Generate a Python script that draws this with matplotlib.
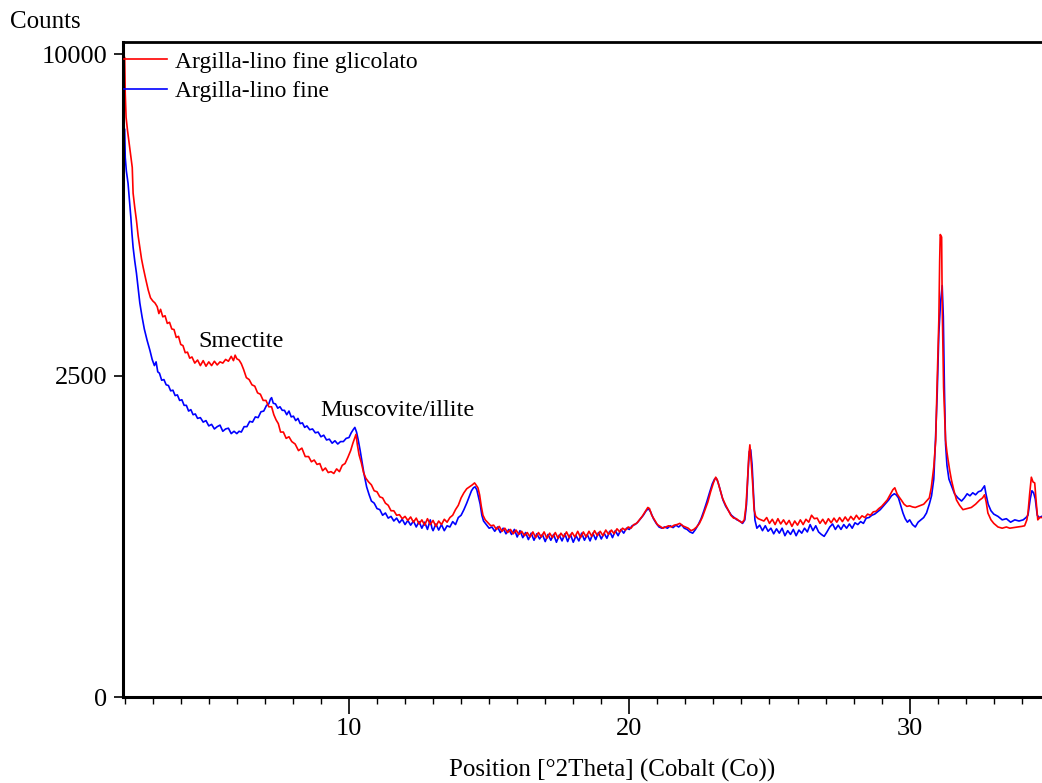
import numpy as np
import matplotlib
matplotlib.use("Agg")
import matplotlib.pyplot as plt

plt.rcParams['font.family'] = ['Liberation Serif', 'DejaVu Serif']

# ---- data: 2-theta (deg) and counts ----
red_label = "Argilla-lino fine glicolato"
blue_label = "Argilla-lino fine"

red_2theta = [
    2.00, 2.02, 2.05, 2.10, 2.16, 2.22, 2.27, 2.30, 2.36, 2.42, 2.48, 2.54, 2.60, 2.66, 2.75, 2.84, 2.92,
    3.00, 3.08, 3.16, 3.22, 3.28, 3.36, 3.44, 3.52, 3.60, 3.68, 3.76, 3.84, 3.92, 4.00, 4.08, 4.16, 4.24,
    4.32, 4.40, 4.50, 4.60, 4.70, 4.80, 4.90, 5.00, 5.10, 5.20, 5.30, 5.40, 5.50, 5.60, 5.70, 5.80, 5.88,
    5.94, 6.00, 6.08, 6.16, 6.24, 6.34, 6.44, 6.54, 6.64, 6.74, 6.84, 6.94, 7.04, 7.14, 7.24, 7.32, 7.40,
    7.48, 7.56, 7.66, 7.76, 7.86, 7.96, 8.08, 8.20, 8.32, 8.44, 8.56, 8.66, 8.76, 8.86, 8.96, 9.06, 9.16,
    9.26, 9.36, 9.46, 9.56, 9.66, 9.76, 9.86, 9.96, 10.06, 10.14, 10.20, 10.25, 10.30, 10.36, 10.44, 10.52,
    10.60, 10.70, 10.80, 10.90, 11.00, 11.10, 11.20, 11.30, 11.40, 11.50, 11.60, 11.70, 11.80, 11.90, 12.00,
    12.10, 12.20, 12.30, 12.40, 12.50, 12.60, 12.70, 12.80, 12.90, 13.00, 13.10, 13.20, 13.30, 13.40, 13.50,
    13.60, 13.70, 13.80, 13.90, 14.00, 14.10, 14.20, 14.30, 14.40, 14.48, 14.53, 14.60, 14.66, 14.72, 14.78,
    14.86, 14.96, 15.06, 15.16, 15.26, 15.36, 15.46, 15.56, 15.66, 15.76, 15.86, 15.96, 16.06, 16.16, 16.26,
    16.36, 16.46, 16.56, 16.66, 16.76, 16.86, 16.96, 17.06, 17.16, 17.26, 17.36, 17.46, 17.56, 17.66, 17.76,
    17.86, 17.96, 18.06, 18.16, 18.26, 18.36, 18.46, 18.56, 18.66, 18.76, 18.86, 18.96, 19.06, 19.16, 19.26,
    19.36, 19.46, 19.56, 19.66, 19.76, 19.86, 19.96, 20.06, 20.16, 20.26, 20.36, 20.46, 20.56, 20.66, 20.72,
    20.80, 20.90, 21.00, 21.10, 21.20, 21.30, 21.40, 21.50, 21.60, 21.70, 21.80, 21.90, 22.00, 22.10, 22.20,
    22.30, 22.40, 22.50, 22.60, 22.70, 22.80, 22.90, 23.00, 23.08, 23.14, 23.22, 23.32, 23.42, 23.52, 23.62,
    23.72, 23.82, 23.92, 24.02, 24.10, 24.16, 24.21, 24.26, 24.30, 24.35, 24.40, 24.45, 24.51, 24.60, 24.70,
    24.80, 24.90, 25.00, 25.10, 25.20, 25.30, 25.40, 25.50, 25.60, 25.70, 25.80, 25.90, 26.00, 26.10, 26.20,
    26.30, 26.40, 26.50, 26.60, 26.70, 26.80, 26.90, 27.00, 27.10, 27.20, 27.30, 27.40, 27.50, 27.60, 27.70,
    27.80, 27.90, 28.00, 28.10, 28.20, 28.30, 28.40, 28.50, 28.60, 28.70, 28.80, 28.90, 29.00, 29.10, 29.20,
    29.30, 29.40, 29.47, 29.55, 29.62, 29.70, 29.80, 29.90, 30.00, 30.10, 30.20, 30.30, 30.40, 30.50, 30.60,
    30.70, 30.77, 30.86, 30.93, 30.97, 31.01, 31.04, 31.07, 31.09, 31.12, 31.14, 31.16, 31.19, 31.21, 31.25,
    31.28, 31.33, 31.37, 31.43, 31.49, 31.58, 31.67, 31.78, 31.90, 32.05, 32.20, 32.35, 32.50, 32.60, 32.67,
    32.73, 32.79, 32.90, 33.00, 33.15, 33.30, 33.45, 33.57, 33.70, 33.85, 34.00, 34.10, 34.18, 34.22, 34.28,
    34.34, 34.40, 34.46, 34.52, 34.57, 34.64, 34.71,
]
red_counts = [
    9900, 8820, 8140, 7780, 7420, 7050, 6790, 6150, 5800, 5500, 5150, 4900, 4650, 4470, 4230, 4010, 3860,
    3800, 3760, 3690, 3560, 3640, 3500, 3520, 3380, 3400, 3280, 3270, 3130, 3150, 3010, 2990, 2870, 2880,
    2780, 2800, 2700, 2750, 2660, 2740, 2650, 2720, 2660, 2730, 2670, 2720, 2700, 2760, 2730, 2810, 2740,
    2830, 2770, 2750, 2690, 2600, 2470, 2440, 2360, 2340, 2240, 2220, 2130, 2130, 2040, 2040, 1930, 1860,
    1810, 1700, 1700, 1620, 1640, 1580, 1550, 1470, 1500, 1400, 1400, 1340, 1360, 1310, 1320, 1240, 1270,
    1220, 1230, 1210, 1260, 1230, 1300, 1320, 1390, 1470, 1560, 1620, 1670, 1540, 1420, 1330, 1220,
    1160, 1120, 1090, 1030, 1020, 970, 960, 910, 890, 840, 840, 800, 805, 770, 790,
    755, 785, 740, 775, 725, 760, 715, 770, 720, 755, 705, 750, 720, 765, 740,
    780, 800, 850, 890, 960, 1010, 1050, 1070, 1090, 1110, 1090, 1060, 990, 880, 800,
    760, 735, 710, 715, 680, 705, 665, 690, 655, 680, 645, 675, 640, 665, 630,
    655, 620, 660, 615, 655, 620, 660, 610, 650, 615, 655, 610, 650, 620, 660,
    615, 655, 620, 665, 615, 660, 620, 665, 625, 670, 630, 665, 630, 675, 640,
    675, 645, 685, 660, 690, 675, 700, 690, 720, 730, 760, 790, 830, 870, 860,
    800, 760, 720, 705, 690, 700, 710, 700, 715, 720, 730, 710, 700, 690, 670,
    680, 700, 730, 780, 850, 920, 1020, 1110, 1170, 1140, 1060, 960, 900, 850, 800,
    775, 770, 750, 735, 760, 880, 1100, 1400, 1540, 1330, 1100, 850, 790, 770, 760,
    750, 780, 730, 765, 720, 770, 725, 760, 720, 755, 705, 750, 715, 760, 720,
    765, 740, 800, 770, 775, 730, 765, 725, 770, 735, 775, 740, 780, 745, 785,
    750, 790, 760, 800, 765, 795, 780, 810, 800, 830, 835, 860, 880, 910, 940,
    990, 1040, 1060, 1000, 970, 940, 900, 880, 885, 875, 870, 880, 890, 900, 930,
    960, 1060, 1280, 1600, 2240, 2900, 3440, 4600, 5180, 5150, 5120, 3760, 2900, 2320, 1900,
    1600, 1450, 1360, 1240, 1140, 1030, 940, 890, 850, 860, 870, 900, 940, 960, 990,
    920, 820, 760, 730, 700, 690, 700, 690, 695, 700, 705, 710, 760, 820, 1000,
    1170, 1120, 1110, 900, 760, 780, 780,
]

blue_2theta = [
    2.00, 2.02, 2.06, 2.12, 2.18, 2.22, 2.26, 2.30, 2.36, 2.42, 2.48, 2.54, 2.62, 2.70, 2.80, 2.90, 2.98,
    3.06, 3.12, 3.18, 3.24, 3.32, 3.40, 3.48, 3.56, 3.64, 3.72, 3.80, 3.88, 3.96, 4.04, 4.12, 4.20, 4.28,
    4.36, 4.44, 4.52, 4.60, 4.70, 4.80, 4.90, 5.00, 5.10, 5.20, 5.30, 5.40, 5.50, 5.60, 5.70, 5.80, 5.90,
    6.00, 6.08, 6.16, 6.26, 6.36, 6.46, 6.56, 6.66, 6.76, 6.86, 6.96, 7.06, 7.14, 7.20, 7.24, 7.30, 7.38,
    7.46, 7.54, 7.62, 7.70, 7.78, 7.86, 7.94, 8.02, 8.10, 8.18, 8.26, 8.34, 8.42, 8.50, 8.60, 8.70, 8.80,
    8.90, 9.00, 9.10, 9.20, 9.30, 9.40, 9.50, 9.60, 9.70, 9.80, 9.90, 10.00, 10.08, 10.15, 10.21, 10.27,
    10.33, 10.40, 10.46, 10.54, 10.63, 10.72, 10.80, 10.90, 11.00, 11.10, 11.20, 11.30, 11.40, 11.50, 11.60,
    11.70, 11.80, 11.90, 12.00, 12.10, 12.20, 12.30, 12.40, 12.50, 12.60, 12.70, 12.80, 12.90, 12.96, 13.00,
    13.10, 13.20, 13.30, 13.40, 13.50, 13.60, 13.70, 13.80, 13.90, 14.00, 14.10, 14.20, 14.30, 14.37, 14.44,
    14.50, 14.56, 14.62, 14.68, 14.74, 14.80, 14.90, 15.00, 15.10, 15.20, 15.30, 15.40, 15.50, 15.60, 15.70,
    15.80, 15.90, 16.00, 16.10, 16.20, 16.30, 16.40, 16.50, 16.60, 16.70, 16.80, 16.90, 17.00, 17.10, 17.20,
    17.30, 17.40, 17.50, 17.60, 17.70, 17.80, 17.90, 18.00, 18.10, 18.20, 18.30, 18.40, 18.50, 18.60, 18.70,
    18.80, 18.90, 19.00, 19.10, 19.20, 19.30, 19.40, 19.50, 19.60, 19.70, 19.80, 19.90, 20.00, 20.10, 20.20,
    20.30, 20.40, 20.50, 20.60, 20.68, 20.76, 20.86, 20.96, 21.06, 21.16, 21.26, 21.36, 21.46, 21.56, 21.66,
    21.76, 21.86, 21.96, 22.06, 22.16, 22.26, 22.36, 22.46, 22.56, 22.66, 22.76, 22.86, 22.96, 23.04, 23.10,
    23.16, 23.24, 23.34, 23.44, 23.54, 23.64, 23.74, 23.84, 23.94, 24.04, 24.12, 24.18, 24.23, 24.28, 24.33,
    24.38, 24.43, 24.48, 24.55, 24.65, 24.75, 24.85, 24.95, 25.05, 25.15, 25.25, 25.35, 25.45, 25.55, 25.65,
    25.75, 25.85, 25.95, 26.05, 26.15, 26.25, 26.35, 26.45, 26.55, 26.65, 26.75, 26.85, 26.95, 27.05, 27.15,
    27.25, 27.35, 27.45, 27.55, 27.65, 27.75, 27.85, 27.95, 28.05, 28.15, 28.25, 28.35, 28.45, 28.55, 28.65,
    28.75, 28.85, 28.95, 29.05, 29.15, 29.25, 29.35, 29.45, 29.52, 29.60, 29.68, 29.76, 29.84, 29.92, 30.00,
    30.10, 30.20, 30.30, 30.40, 30.50, 30.60, 30.70, 30.78, 30.86, 30.92, 30.98, 31.04, 31.10, 31.16, 31.20,
    31.24, 31.28, 31.33, 31.40, 31.49, 31.60, 31.72, 31.85, 31.95, 32.05, 32.15, 32.25, 32.35, 32.45, 32.55,
    32.62, 32.67, 32.72, 32.80, 32.90, 33.00, 33.15, 33.30, 33.45, 33.60, 33.75, 33.90, 34.05, 34.15, 34.22,
    34.30, 34.36, 34.42, 34.48, 34.55, 34.62, 34.71,
]
blue_counts = [
    7800, 7050, 6700, 6390, 5900, 5570, 5200, 4900, 4600, 4350, 4050, 3760, 3500, 3280, 3080, 2910, 2760,
    2660, 2720, 2560, 2540, 2430, 2440, 2360, 2350, 2270, 2280, 2200, 2210, 2130, 2140, 2060, 2060, 1980,
    2000, 1930, 1940, 1880, 1890, 1830, 1850, 1780, 1800, 1740, 1770, 1790, 1710, 1740, 1750, 1680, 1710,
    1680, 1710, 1700, 1770, 1770, 1840, 1830, 1900, 1890, 1970, 1980, 2060, 2080, 2150, 2170, 2090, 2080,
    2020, 2040, 1990, 1990, 1930, 1980, 1900, 1910, 1850, 1880, 1810, 1820, 1760, 1780, 1730, 1740, 1690,
    1700, 1640, 1660, 1600, 1610, 1560, 1590, 1550, 1580, 1580, 1620, 1630, 1690, 1730, 1760, 1700,
    1600, 1470, 1350, 1200, 1070, 990, 930, 910, 860, 850, 800, 820, 775, 790, 750,
    775, 735, 765, 720, 755, 715, 750, 700, 745, 690, 740, 680, 760, 690, 670,
    725, 675, 720, 670, 710, 700, 745, 720, 780, 800, 850, 910, 980, 1030, 1060,
    1070, 1040, 970, 900, 800, 750, 720, 690, 700, 665, 700, 655, 690, 645, 680,
    640, 680, 620, 670, 615, 655, 600, 650, 595, 645, 605, 640, 585, 640, 595,
    640, 580, 635, 590, 645, 585, 640, 580, 630, 590, 650, 595, 640, 590, 650,
    600, 655, 605, 650, 610, 665, 615, 670, 630, 680, 650, 690, 680, 710, 720,
    740, 770, 800, 840, 860, 830, 770, 730, 700, 690, 700, 690, 710, 695, 715,
    700, 720, 690, 680, 660, 650, 680, 720, 770, 840, 920, 1010, 1100, 1150, 1160,
    1120, 1040, 940, 880, 840, 800, 780, 760, 750, 730, 760, 900, 1200, 1460, 1480,
    1300, 1000, 760, 690, 715, 670, 710, 665, 690, 645, 685, 650, 690, 630, 670,
    640, 680, 630, 675, 650, 690, 660, 720, 670, 710, 660, 640, 625, 660, 700,
    725, 680, 715, 680, 720, 690, 725, 690, 735, 720, 745, 730, 775, 780, 800,
    810, 830, 850, 880, 910, 940, 980, 1000, 990, 960, 890, 820, 770, 740, 760,
    720, 700, 740, 760, 780, 820, 900, 980, 1150, 1600, 2200, 3200, 3760, 4100, 3500,
    2300, 1550, 1300, 1150, 1080, 1000, 960, 930, 960, 1000, 980, 1010, 990, 1020, 1030,
    1060, 1080, 1000, 900, 840, 810, 790, 760, 770, 740, 760, 750, 760, 780, 800,
    950, 1030, 1010, 950, 800, 780, 790,
]

x_ticks = [10, 20, 30]
y_ticks = [0, 2500, 10000]
annotations = [("Smectite", 4.62, 3065), ("Muscovite/illite", 8.97, 1992)]

W, H = 1042, 783
fig = plt.figure(figsize=(W / 100, H / 100), dpi=100)
ax = fig.add_axes([123 / W, 1 - 697 / H, (W - 123) / W, (697 - 42) / H])

ax.set_yscale('function', functions=(lambda v: np.sqrt(np.clip(v, 0, None)), lambda v: np.square(v)))

lb, = ax.plot(blue_2theta, blue_counts, color='#0000ff', lw=1.2, label=blue_label)
lr, = ax.plot(red_2theta, red_counts, color='#ff0000', lw=1.2, label=red_label)

ax.set_xlim(1.94, 34.72)
ax.set_ylim(0, 10390)

ax.set_xticks(x_ticks)
ax.set_xticks(np.arange(2, 35, 1), minor=True)
ax.set_yticks(y_ticks)
ax.set_yticklabels([str(v) for v in y_ticks])
ax.yaxis.set_minor_locator(matplotlib.ticker.NullLocator())
ax.tick_params(axis='x', which='major', length=12, width=1.2, labelsize=19, pad=3, direction='out')
ax.tick_params(axis='x', which='minor', length=5, width=1.0, direction='out')
ax.tick_params(axis='y', which='major', length=6.5, width=1.2, labelsize=19, pad=5, direction='out')

for s in ['left', 'bottom']:
    ax.spines[s].set_linewidth(2.2)
ax.spines['top'].set_linewidth(2.0)
ax.spines['right'].set_visible(False)

for txt, xx, yy in annotations:
    ax.text(xx, yy, txt, ha='left', va='center', fontsize=17.5)

leg = ax.legend(handles=[lr, lb], loc='upper left', bbox_to_anchor=(-0.0083, 1.0), frameon=False,
                fontsize=17, handlelength=1.82, handletextpad=0.34, borderaxespad=0.0,
                borderpad=0.385, labelspacing=0.35)

fig.text(10 / W, 1 - 22 / H, "Counts", ha='left', va='center', fontsize=18)
fig.text(612 / W, 1 - 770 / H, "Position [°2Theta] (Cobalt (Co))", ha='center', va='center', fontsize=18)

fig.savefig("out.png", dpi=100)
